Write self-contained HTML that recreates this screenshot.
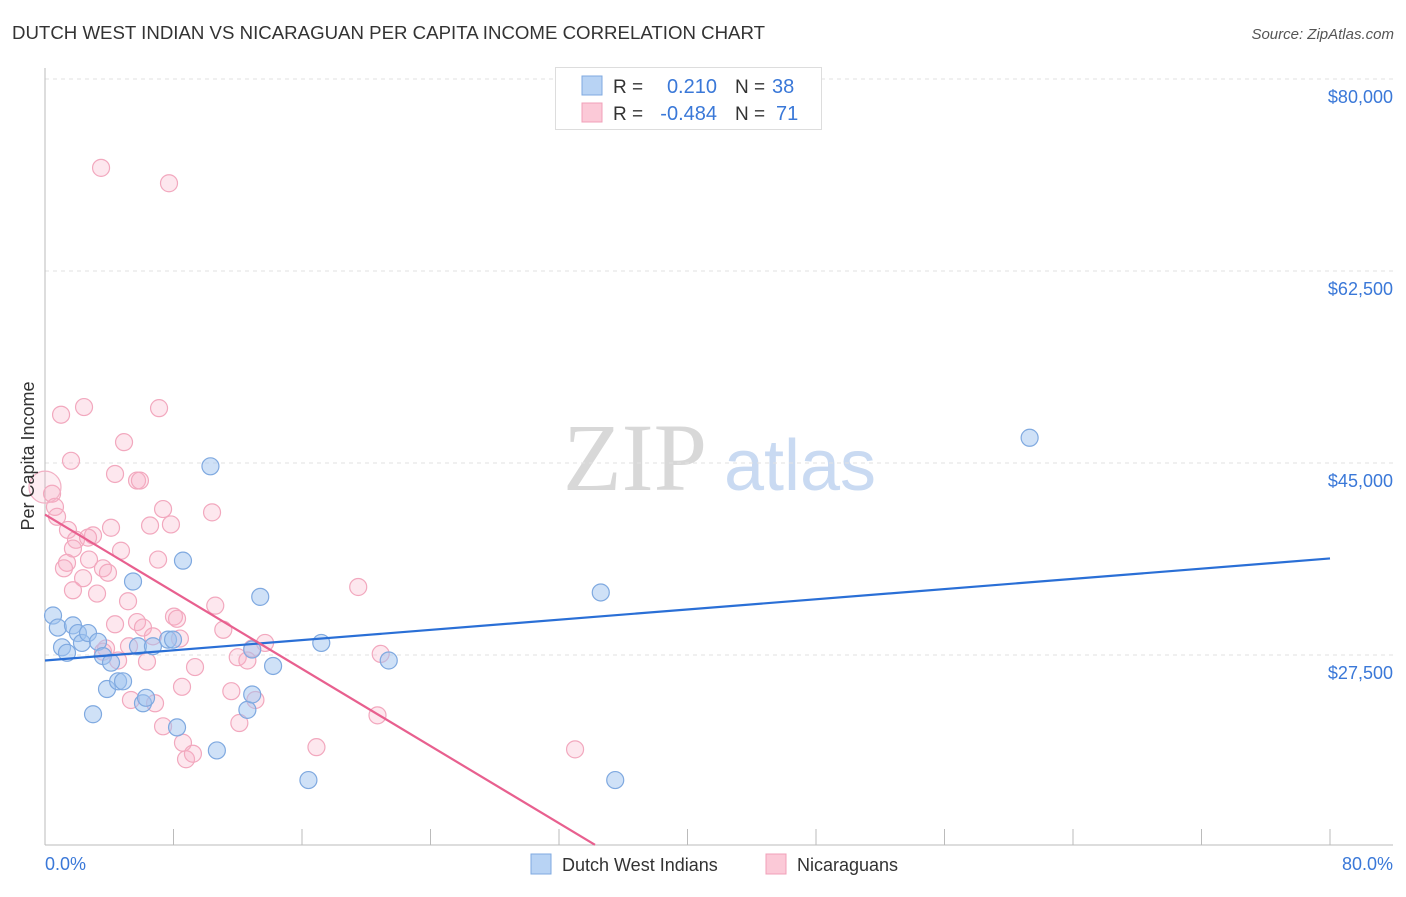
<!DOCTYPE html>
<html><head><meta charset="utf-8">
<style>
body{margin:0;background:#fff;font-family:"Liberation Sans",sans-serif;}
svg text{font-family:"Liberation Sans",sans-serif;}
</style></head>
<body>
<svg id="chart" width="1406" height="892" viewBox="0 0 1406 892" xmlns="http://www.w3.org/2000/svg">
<text x="12" y="39" font-size="18.5" fill="#333" textLength="753" lengthAdjust="spacingAndGlyphs">DUTCH WEST INDIAN VS NICARAGUAN PER CAPITA INCOME CORRELATION CHART</text>
<text x="1394" y="39" font-size="15" fill="#555" font-style="italic" text-anchor="end">Source: ZipAtlas.com</text>
<g>
<text x="635" y="490" font-size="96" fill="#d8d8d8" text-anchor="middle" font-family="Liberation Serif" style="font-family:'Liberation Serif',serif">ZIP</text>
<text x="800" y="490" font-size="72" fill="#c9daf2" text-anchor="middle">atlas</text>
</g>
<g id="grid"></g>
<g id="axes"></g>
<g id="pts"></g>
<g id="trends"></g>
<text x="28" y="456" font-size="18" fill="#333" text-anchor="middle" transform="rotate(-90 28 456)" dy="6">Per Capita Income</text>
<text x="45" y="870" font-size="18" fill="#3a78d8">0.0%</text>
<text x="1393" y="870" font-size="18" fill="#3a78d8" text-anchor="end">80.0%</text>
<g>
<rect x="555.5" y="67.5" width="266" height="62" fill="#fff" stroke="#ddd"/>
<rect x="582" y="76" width="20" height="19" fill="#b8d3f4" stroke="#7fa9e0"/>
<rect x="582" y="103" width="20" height="19" fill="#fbc9d7" stroke="#f0a0b8"/>
<text x="613" y="93" font-size="19" fill="#333">R =</text>
<text x="717" y="93" font-size="20" fill="#3a78d8" text-anchor="end">0.210</text>
<text x="735" y="93" font-size="19" fill="#333">N =</text>
<text x="772" y="93" font-size="20" fill="#3a78d8">38</text>
<text x="613" y="120" font-size="19" fill="#333">R =</text>
<text x="717" y="120" font-size="20" fill="#3a78d8" text-anchor="end">-0.484</text>
<text x="735" y="120" font-size="19" fill="#333">N =</text>
<text x="776" y="120" font-size="20" fill="#3a78d8">71</text>
</g>
<g>
<rect x="531" y="854" width="20" height="20" fill="#b8d3f4" stroke="#7fa9e0"/>
<text x="562" y="871" font-size="18" fill="#333">Dutch West Indians</text>
<rect x="766" y="854" width="20" height="20" fill="#fbc9d7" stroke="#f0a0b8"/>
<text x="797" y="871" font-size="18" fill="#333">Nicaraguans</text>
</g>
</svg>
<script>
const yTicks=[80000,62500,45000,27500];
const yTickLabels=["$80,000","$62,500","$45,000","$27,500"];
const xTicks=[0,8,16,24,32,40,48,56,64,72,80];
const blueX=[0.5,0.8,1.06,1.37,1.74,2.05,2.3,2.68,2.99,3.3,3.61,3.86,4.11,4.55,4.86,5.48,5.79,6.1,6.29,6.72,7.66,7.97,8.22,8.59,10.3,10.7,12.6,12.9,12.9,13.4,14.2,16.4,17.2,21.4,34.6,35.5,61.3];
const blueY=[31.1,30.0,28.2,27.7,30.2,29.5,28.6,29.5,22.1,28.7,27.4,24.4,26.8,25.1,25.1,34.2,28.3,23.1,23.6,28.3,28.9,28.9,20.9,36.1,44.7,18.8,22.5,23.9,28.0,32.8,26.5,16.1,28.6,27.0,33.2,16.1,47.3];
const pinkX=[3.49,7.72,1.0,2.43,7.1,1.62,4.92,4.36,5.73,5.91,0.44,0.62,0.75,7.35,10.4,4.11,6.54,7.84,1.43,2.99,1.93,2.68,1.74,4.73,7.04,1.37,2.74,1.18,3.61,3.92,2.37,1.74,3.24,5.17,10.6,19.5,8.03,4.36,5.73,8.22,6.1,11.1,3.8,6.72,8.4,5.23,13.7,12.9,3.61,12.0,4.55,6.35,12.6,20.9,9.34,8.53,11.6,5.35,6.85,13.1,7.35,12.1,8.59,20.7,8.78,9.21,16.9,33.0];
const pinkY=[71.9,70.5,49.4,50.1,50.0,45.2,46.9,44.0,43.4,43.4,42.2,41.0,40.1,40.8,40.5,39.1,39.3,39.4,38.9,38.4,38.0,38.2,37.2,37.0,36.2,35.9,36.2,35.4,35.4,35.0,34.5,33.4,33.1,32.4,32.0,33.7,31.0,30.3,30.5,30.8,30.0,29.8,28.1,29.2,29.0,28.3,28.6,28.1,27.8,27.3,27.0,26.9,27.0,27.6,26.4,24.6,24.2,23.4,23.1,23.4,21.0,21.3,19.5,22.0,18.0,18.5,19.1,18.9];
const bigPinkX=[0.0];const bigPinkY=[42.8];
const blueTrendX=[0,80];const blueTrendY=[27.0,36.3];
const pinkTrendX=[0,34.24];const pinkTrendY=[40.3,10.2];

const NS="http://www.w3.org/2000/svg";
const xs=v=>45+v/80*1285;
const ys=v=>79+(80-v)/17.5*192;
function mk(tag,attrs,parent){const e=document.createElementNS(NS,tag);for(const k in attrs)e.setAttribute(k,attrs[k]);parent.appendChild(e);return e;}
const grid=document.getElementById('grid'),axes=document.getElementById('axes'),pts=document.getElementById('pts'),tr=document.getElementById('trends');
yTicks.forEach((t,i)=>{const y=ys(t/1000);
const l=mk('line',{x1:45,x2:1393,y1:y,y2:y,stroke:'#e2e2e2','stroke-dasharray':'4,4'},grid);


const tx=mk('text',{x:1393,y:y+24,'font-size':18,fill:'#3a78d8','text-anchor':'end'},axes);
tx.textContent=yTickLabels[i];

});
const ax1=mk('line',{x1:45,x2:45,y1:68,y2:845,stroke:'#bbb'},axes);


const ax2=mk('line',{x1:45,x2:1393,y1:845,y2:845,stroke:'#bbb'},axes);


xTicks.forEach(t=>{const x=xs(t);const l=mk('line',{x1:x,x2:x,y1:829,y2:845,stroke:'#bbb'},axes);

});
function dots(X,Y,fill,stroke,name,r){X.forEach((v,i)=>{const c=mk('circle',{cx:xs(v),cy:ys(Y[i]),r:r,fill:fill,stroke:stroke,'stroke-width':1.2},pts);

});}
dots(pinkX,pinkY,'rgba(248,175,198,0.3)','#f2a8be','nicaraguan-point',8.5);
dots(bigPinkX,bigPinkY,'rgba(248,175,198,0.22)','#f2b0c4','nicaraguan-point-large',16);
dots(blueX,blueY,'rgba(160,196,240,0.5)','#7fa9e0','dutch-west-indian-point',8.5);
const bl=mk('line',{x1:xs(blueTrendX[0]),y1:ys(blueTrendY[0]),x2:xs(blueTrendX[1]),y2:ys(blueTrendY[1]),stroke:'#2a6fd6','stroke-width':2.2},tr);


const pl=mk('line',{x1:xs(pinkTrendX[0]),y1:ys(pinkTrendY[0]),x2:xs(pinkTrendX[1]),y2:ys(pinkTrendY[1]),stroke:'#e8608f','stroke-width':2.2},tr);


</script>
</body></html>
